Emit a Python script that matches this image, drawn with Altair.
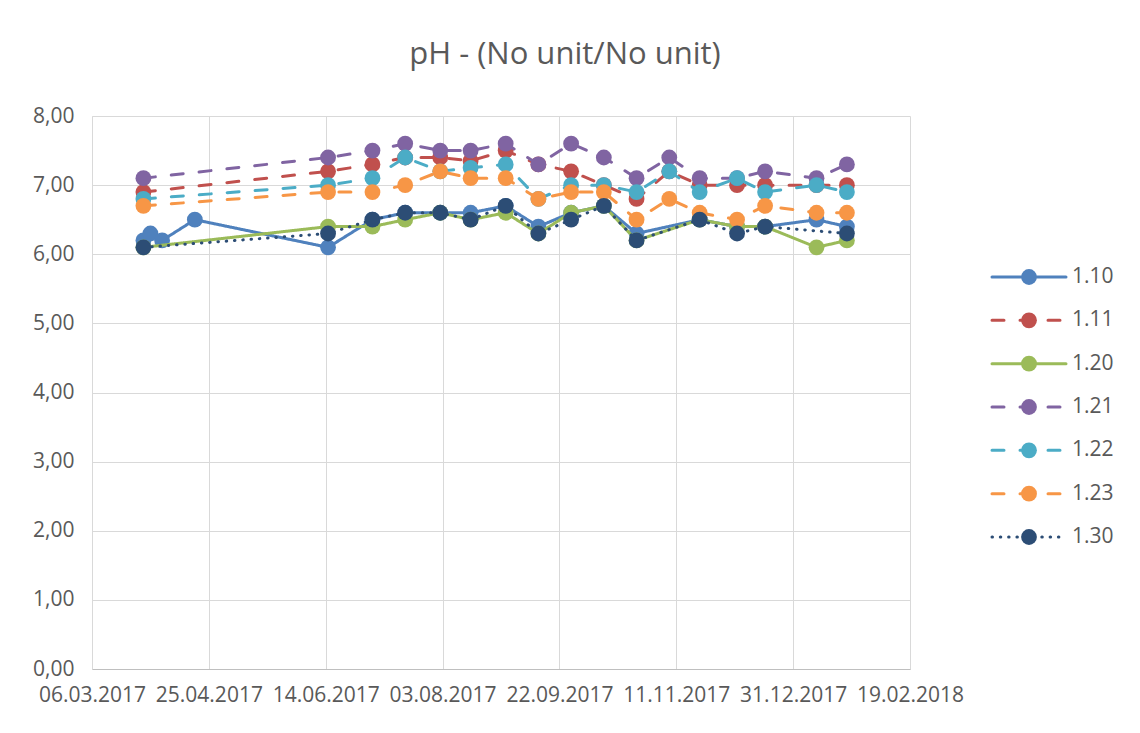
import altair as alt
import pandas as pd

TITLE = "pH - (No unit/No unit)"
SERIES = ["1.10", "1.11", "1.20", "1.21", "1.22", "1.23", "1.30"]

# x-axis tick dates (every 50 days)
TICK_DATES = [(2017, 3, 6), (2017, 4, 25), (2017, 6, 14), (2017, 8, 3),
              (2017, 9, 22), (2017, 11, 11), (2017, 12, 31), (2018, 2, 19)]
Y_TICKS = [0, 1, 2, 3, 4, 5, 6, 7, 8]

# ---- data ----
dates_110 = ["2017-03-28", "2017-03-31", "2017-04-05", "2017-04-19", "2017-06-15",
             "2017-07-04", "2017-07-18", "2017-08-02", "2017-08-15", "2017-08-30",
             "2017-09-13", "2017-09-27", "2017-10-11", "2017-10-25", "2017-11-21",
             "2017-12-07", "2017-12-19", "2018-01-10", "2018-01-23"]
ph_110 = [6.2, 6.3, 6.2, 6.5, 6.1, 6.5, 6.6, 6.6, 6.6, 6.7,
          6.4, 6.6, 6.7, 6.3, 6.5, 6.4, 6.4, 6.5, 6.4]

dates_dashed = ["2017-03-28", "2017-06-15", "2017-07-04", "2017-07-18", "2017-08-02",
                "2017-08-15", "2017-08-30", "2017-09-13", "2017-09-27", "2017-10-11",
                "2017-10-25", "2017-11-08", "2017-11-21", "2017-12-07", "2017-12-19",
                "2018-01-10", "2018-01-23"]
ph_111 = [6.9, 7.2, 7.3, 7.4, 7.4, 7.35, 7.5, 7.3, 7.2, 7.0, 6.8, 7.2, 7.0, 7.0, 7.0, 7.0, 7.0]
ph_121 = [7.1, 7.4, 7.5, 7.6, 7.5, 7.5, 7.6, 7.3, 7.6, 7.4, 7.1, 7.4, 7.1, 7.1, 7.2, 7.1, 7.3]
ph_122 = [6.8, 7.0, 7.1, 7.4, 7.2, 7.25, 7.3, 6.8, 7.0, 7.0, 6.9, 7.2, 6.9, 7.1, 6.9, 7.0, 6.9]
ph_123 = [6.7, 6.9, 6.9, 7.0, 7.2, 7.1, 7.1, 6.8, 6.9, 6.9, 6.5, 6.8, 6.6, 6.5, 6.7, 6.6, 6.6]

dates_120 = ["2017-03-28", "2017-06-15", "2017-07-04", "2017-07-18", "2017-08-02",
             "2017-08-15", "2017-08-30", "2017-09-13", "2017-09-27", "2017-10-11",
             "2017-10-25", "2017-11-21", "2017-12-07", "2017-12-19", "2018-01-10",
             "2018-01-23"]
ph_120 = [6.1, 6.4, 6.4, 6.5, 6.6, 6.5, 6.6, 6.3, 6.6, 6.7, 6.2, 6.5, 6.4, 6.4, 6.1, 6.2]

dates_130 = ["2017-03-28", "2017-06-15", "2017-07-04", "2017-07-18", "2017-08-02",
             "2017-08-15", "2017-08-30", "2017-09-13", "2017-09-27", "2017-10-11",
             "2017-10-25", "2017-11-21", "2017-12-07", "2017-12-19", "2018-01-23"]
ph_130 = [6.1, 6.3, 6.5, 6.6, 6.6, 6.5, 6.7, 6.3, 6.5, 6.7, 6.2, 6.5, 6.3, 6.4, 6.3]

SERIES_DATA = {
    "1.10": (dates_110, ph_110),
    "1.11": (dates_dashed, ph_111),
    "1.20": (dates_120, ph_120),
    "1.21": (dates_dashed, ph_121),
    "1.22": (dates_dashed, ph_122),
    "1.23": (dates_dashed, ph_123),
    "1.30": (dates_130, ph_130),
}

# ---- styles ----
COLORS = ["#4F81BD", "#C0504D", "#9BBB59", "#8064A2", "#4BACC6", "#F79646", "#2C4D75"]
DASHES = [[1, 0], [12, 16], [1, 0], [12, 16], [12, 16], [12, 16], [0.5, 7.8]]
FONT = "Open Sans"
TXT = "#595959"
GRID = "#D9D9D9"

W, H = 818, 553

frames = []
for s in SERIES:
    d, v = SERIES_DATA[s]
    frames.append(pd.DataFrame({"series": s, "date": d, "ph": v}))
df = pd.concat(frames, ignore_index=True)


def dt(t):
    return alt.DateTime(year=t[0], month=t[1], date=t[2], utc=True)


x_enc = alt.X(
    "date:T",
    scale=alt.Scale(type="utc", domain=[dt(TICK_DATES[0]), dt(TICK_DATES[-1])]),
    axis=alt.Axis(values=[dt(t) for t in TICK_DATES],
                  labelExpr="utcFormat(datum.value, '%d.%m.%Y')",
                  labelPadding=15, domainColor="#BFBFBF", labelFlush=False,
                  labelOverlap=False),
    title=None,
)
y_enc = alt.Y(
    "ph:Q",
    scale=alt.Scale(domain=[0, 8], nice=False),
    axis=alt.Axis(values=Y_TICKS,
                  labelExpr="replace(format(datum.value, '.2f'), '.', ',')",
                  labelPadding=18, domainColor=GRID),
    title=None,
)

layers = []
for s, c, dash in zip(SERIES, COLORS, DASHES):
    base = alt.Chart(df).transform_filter(alt.datum.series == s)
    layers.append(base.mark_line(strokeWidth=3, strokeCap="round", strokeJoin="round",
                                 strokeDash=dash, color=c).encode(x=x_enc, y=y_enc))
    layers.append(base.mark_point(filled=True, size=250, opacity=1, color=c)
                  .encode(x=x_enc, y=y_enc))
data_layer = alt.layer(*layers)

# ---- legend built from the series names ----
leg = pd.DataFrame([{"series": s, "lx": lx} for s in SERIES for lx in (0.0, 0.5, 1.0)])
lx_enc = alt.X("lx:Q", scale=alt.Scale(domain=[0, 1], range=[900, 974]), axis=None)
ly_enc = alt.Y("series:N", scale=alt.Scale(type="point", domain=SERIES, range=[161, 421], padding=0),
               axis=None)
col_enc = alt.Color("series:N", scale=alt.Scale(domain=SERIES, range=COLORS), legend=None)
dash_enc = alt.StrokeDash("series:N", scale=alt.Scale(domain=SERIES, range=DASHES), legend=None)

leg_base = alt.Chart(leg)
leg_line = leg_base.mark_line(strokeWidth=3, strokeCap="round").encode(
    x=lx_enc, y=ly_enc, color=col_enc, strokeDash=dash_enc, detail="series:N")
leg_pt = leg_base.transform_filter(alt.datum.lx == 0.5).mark_point(
    filled=True, size=250, opacity=1).encode(x=lx_enc, y=ly_enc, color=col_enc)
leg_txt = leg_base.transform_filter(alt.datum.lx == 1).mark_text(
    align="left", baseline="middle", dx=6, font=FONT, fontSize=21, color=TXT).encode(
    x=lx_enc, y=ly_enc, text="series:N")
legend_layer = alt.layer(leg_line, leg_pt, leg_txt)

chart = alt.layer(data_layer, legend_layer).resolve_scale(
    x="independent", y="independent", color="independent", strokeDash="independent"
).properties(
    width=W, height=H,
    title=alt.TitleParams(TITLE, font=FONT, fontSize=31, fontWeight="normal", color=TXT,
                          anchor="middle", frame="group", dx=64, offset=10,
                          baseline="alphabetic"),
    autosize=alt.AutoSizeParams(type="none"),
    padding={"left": 84, "top": 108, "right": 222, "bottom": 56},
).configure_view(stroke="transparent").configure_axis(
    grid=True, gridColor=GRID, gridWidth=1, ticks=False,
    labelFont=FONT, labelFontSize=21, labelColor=TXT,
)

chart.save("out.html", embed_options={"renderer": "svg", "actions": False})
